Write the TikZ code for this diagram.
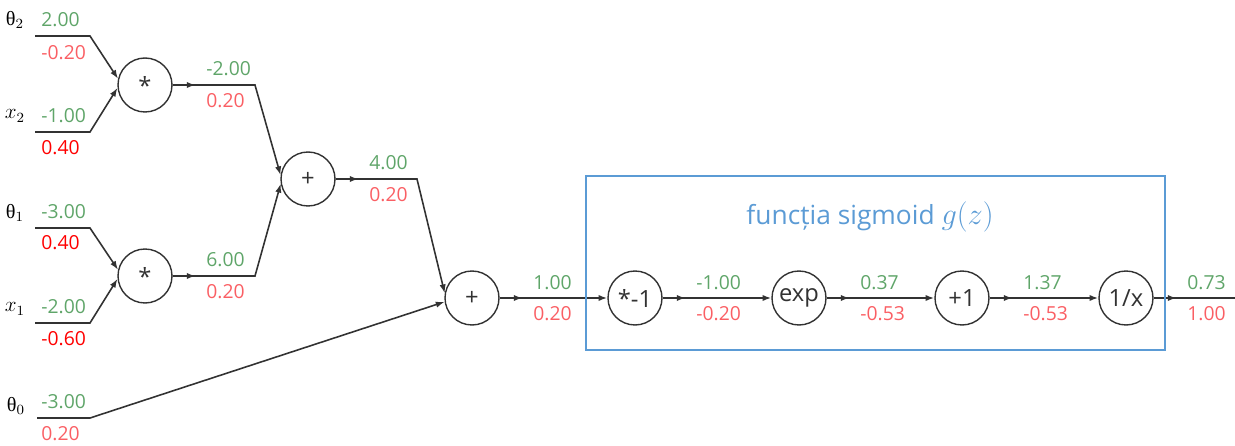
\documentclass[tikz,border=0pt]{standalone}
\usepackage{fontspec}
\setmainfont{Open Sans}
\newfontfamily\grk{Liberation Serif}
\usetikzlibrary{arrows.meta,decorations.markings}
\definecolor{gnum}{RGB}{95,165,105}
\definecolor{rnum}{RGB}{250,95,100}
\definecolor{rbright}{RGB}{255,0,0}
\definecolor{sigblue}{RGB}{91,155,213}
\definecolor{lin}{RGB}{50,50,50}
\tikzset{
  op/.style={circle, draw=lin, line width=0.8pt, minimum size=1.08cm, inner sep=0pt,
    font=\fontsize{13.5}{14}\selectfont, text=lin},
  conn/.style={draw=lin, line width=0.9pt},
  tipend/.style={-{Latex[length=5pt,width=3.6pt]}},
  midarrow/.style={postaction={decorate}, decoration={markings,
    mark=at position 13pt with {\arrow{Latex[length=5pt,width=3.6pt]}}}},
  gv/.style={anchor=west, text=gnum, font=\fontsize{11}{12}\selectfont, inner sep=0pt},
  rv/.style={anchor=west, text=rnum, font=\fontsize{11}{12}\selectfont, inner sep=0pt},
  rb/.style={anchor=west, text=rbright, font=\fontsize{11}{12}\selectfont, inner sep=0pt},
  inlab/.style={font=\fontsize{11.5}{12}\selectfont, inner sep=0pt, text=black},
  sigbox/.style={draw=sigblue, line width=1.1pt},
}
\begin{document}
\begin{tikzpicture}[x=0.02cm, y=-0.02cm]
\useasboundingbox (0,0) rectangle (1235,446);

% input labels
\node[inlab] (lt2) at (15,20) {{\grk θ}$_2$};
\node[inlab] (lx2) at (15,116) {$x_2$};
\node[inlab] (lt1) at (15,213) {{\grk θ}$_1$};
\node[inlab] (lx1) at (15,309) {$x_1$};
\node[inlab] (lt0) at (16,406) {{\grk θ}$_0$};

% input coordinates
\coordinate (t2a) at (35,36);  \coordinate (t2b) at (90,36);
\coordinate (x2a) at (35,132); \coordinate (x2b) at (90,132);
\coordinate (t1a) at (35,228); \coordinate (t1b) at (90,228);
\coordinate (x1a) at (35,323); \coordinate (x1b) at (90,323);
\coordinate (t0a) at (37,418); \coordinate (t0b) at (90,418);

% nodes
\node[op] (m2) at (145,85) {*};
\node[op] (m1) at (145,276) {*};
\node[op] (p1) at (308,179) {+};
\node[op] (p2) at (472,298) {+};
\node[op] (n1) at (635,298) {*-1};
\node[op] (n2) at (799,298) {exp};
\node[op] (n3) at (962,298) {+1};
\node[op] (n4) at (1126,298) {1/x};

\coordinate (j2) at (255,85);
\coordinate (j1) at (255,276);
\coordinate (j3) at (417,179);
\coordinate (out) at (1235,298);

% connectors
\draw[conn, tipend] (t2a) -- (t2b) -- (m2.167);
\draw[conn, tipend] (x2a) -- (x2b) -- (m2.186);
\draw[conn, tipend] (t1a) -- (t1b) -- (m1.167);
\draw[conn, tipend] (x1a) -- (x1b) -- (m1.186);
\draw[conn, tipend, midarrow] (m2) -- (j2) -- (p1.172);
\draw[conn, tipend, midarrow] (m1) -- (j1) -- (p1.190);
\draw[conn, tipend, midarrow] (p1) -- (j3) -- (p2.170);
\draw[conn, tipend] (t0a) -- (t0b) -- (p2.188);
\draw[conn, tipend, midarrow] (p2) -- (n1);
\draw[conn, tipend, midarrow] (n1) -- (n2);
\draw[conn, tipend, midarrow] (n2) -- (n3);
\draw[conn, tipend, midarrow] (n3) -- (n4);
\draw[conn, midarrow] (n4) -- (out);

% box
\draw[sigbox] (586,176) rectangle (1165,350);
\node[text=sigblue, font=\fontsize{15}{18}\selectfont, inner sep=0pt] (title) at (870,217) {funcția sigmoid {\fontsize{17}{18}\selectfont$g(z)$}};

% values
\node[gv] (v1) at (41,20) {2.00};
\node[rv] (g1) at (41,53) {-0.20};
\node[gv] (v2) at (41,116) {-1.00};
\node[rb] (g2) at (41,148) {0.40};
\node[gv] (v3) at (41,212) {-3.00};
\node[rb] (g3) at (41,243) {0.40};
\node[gv] (v4) at (41,307) {-2.00};
\node[rb] (g4) at (41,339) {-0.60};
\node[gv] (v5) at (41,402) {-3.00};
\node[rv] (g5) at (41,434) {0.20};

\node[gv] (v6) at (206,69) {-2.00};
\node[rv] (g6) at (206,101) {0.20};
\node[gv] (v7) at (206,260) {6.00};
\node[rv] (g7) at (206,292) {0.20};
\node[gv] (v8) at (369,163) {4.00};
\node[rv] (g8) at (369,195) {0.20};

\node[gv] (v9) at (533,283) {1.00};
\node[rv] (g9) at (533,314) {0.20};
\node[gv] (v10) at (696,283) {-1.00};
\node[rv] (g10) at (696,314) {-0.20};
\node[gv] (v11) at (860,283) {0.37};
\node[rv] (g11) at (860,314) {-0.53};
\node[gv] (v12) at (1023,283) {1.37};
\node[rv] (g12) at (1023,314) {-0.53};
\node[gv] (v13) at (1187,283) {0.73};
\node[rv] (g13) at (1187,314) {1.00};
\end{tikzpicture}
\end{document}
